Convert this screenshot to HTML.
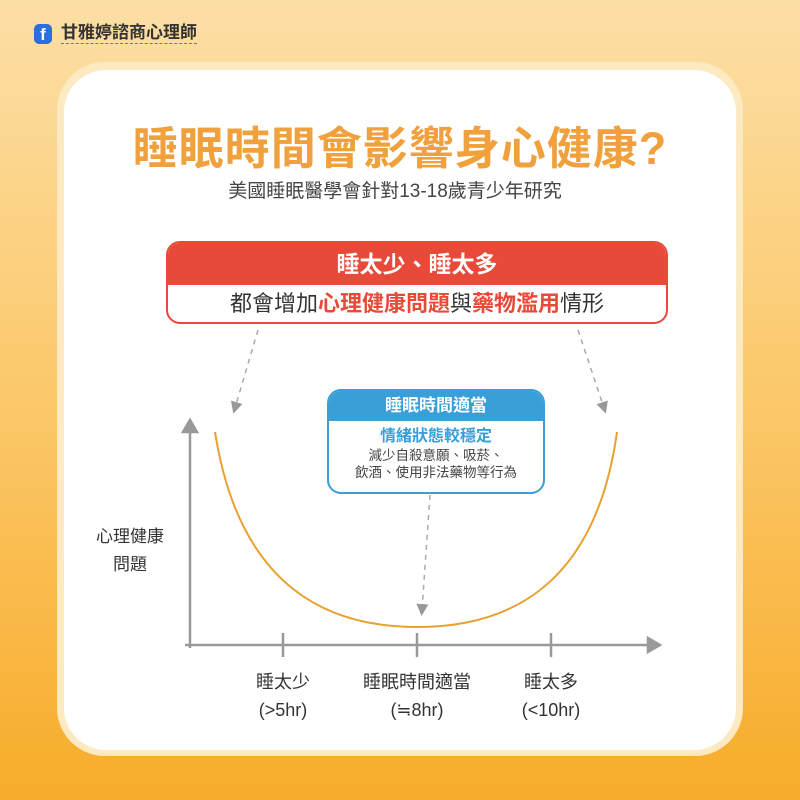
<!DOCTYPE html>
<html><head><meta charset="utf-8"><style>
body{margin:0;width:800px;height:800px;overflow:hidden;font-family:"Liberation Sans","Noto Sans CJK TC",sans-serif;background:linear-gradient(180deg,#fcdfa6 0%,#fbc86a 50%,#f8ac2a 100%);position:relative}
.a{position:absolute}
</style></head><body>
<div class="a" style="left:34px;top:24px;width:18px;height:20px;background:#2a6fe0;border-radius:5px;color:#fff;font-weight:bold;font-size:17px;text-align:center;line-height:22px">f</div>
<div class="a" style="left:61px;top:22px;font-size:17px;color:#333;font-weight:bold;border-bottom:1px dashed #777;line-height:21px">甘雅婷諮商心理師</div>
<div class="a" style="left:57px;top:62px;width:686px;height:694px;border-radius:48px;background:#fde9c2"></div>
<div class="a" style="left:64px;top:70px;width:672px;height:680px;border-radius:42px;background:#fff"></div>
<div class="a" style="left:0;width:800px;top:112px;text-align:center;font-size:45px;color:#f0a03c;font-weight:bold;letter-spacing:1px">睡眠時間會影響身心健康?</div>
<div class="a" style="left:0;width:790px;top:176px;text-align:center;font-size:19px;color:#444">美國睡眠醫學會針對13-18歲青少年研究</div>
<div class="a" style="left:166px;top:241px;width:498px;height:79px;border:2px solid #e84a3a;border-radius:14px;overflow:hidden;background:#fff">
<div style="height:42px;background:#e84a3a;color:#fff;font-size:23px;font-weight:bold;text-align:center;line-height:42px">睡太少、睡太多</div>
<div style="text-align:center;font-size:22px;color:#333;line-height:37px">都會增加<b style="color:#e84a3a">心理健康問題</b>與<b style="color:#e84a3a">藥物濫用</b>情形</div></div>
<div class="a" style="left:327px;top:389px;width:214px;height:101px;border:2px solid #3a9fd8;border-radius:14px;overflow:hidden;background:#fff">
<div style="height:30px;background:#3a9fd8;color:#fff;font-size:17px;font-weight:bold;text-align:center;line-height:30px">睡眠時間適當</div>
<div style="text-align:center;font-size:16px;color:#3a9fd8;font-weight:bold;margin-top:6px;line-height:20px">情緒狀態較穩定</div>
<div style="text-align:center;font-size:13.5px;color:#444;line-height:17px">減少自殺意願、吸菸、<br>飲酒、使用非法藥物等行為</div></div>
<svg class="a" style="left:0;top:0" width="800" height="800">
<defs><marker id="m" markerWidth="8" markerHeight="8" refX="4" refY="4" orient="auto"><path d="M0,0L8,4L0,8z" fill="#999"/></marker></defs>
<g stroke="#aaa" stroke-width="1.5" stroke-dasharray="5,5" fill="none">
<line x1="258" y1="330" x2="235" y2="408" marker-end="url(#m)"/>
<line x1="578" y1="330" x2="604" y2="408" marker-end="url(#m)"/>
<line x1="430" y1="495" x2="422" y2="610" marker-end="url(#m)"/>
</g>
<g stroke="#999" stroke-width="2.5" fill="none">
<line x1="190" y1="648" x2="190" y2="430"/><path d="M183,432L190,420L197,432z" fill="#999"/>
<line x1="185" y1="645" x2="650" y2="645"/><path d="M648,638L660,645L648,652z" fill="#999"/>
<line x1="283" y1="633" x2="283" y2="657"/><line x1="417" y1="633" x2="417" y2="657"/><line x1="551" y1="633" x2="551" y2="657"/>
</g>
<path d="M215,432 C240,590 330,627 417,627 C505,627 595,590 617,432" stroke="#e8a030" stroke-width="2" fill="none"/>
</svg>
<div class="a" style="left:85px;top:523px;width:90px;text-align:center;font-size:17px;color:#333;line-height:28px">心理健康<br>問題</div>
<div class="a" style="left:213px;top:668px;width:140px;text-align:center;font-size:18px;color:#333;line-height:28px">睡太少<br>(&gt;5hr)</div>
<div class="a" style="left:337px;top:668px;width:160px;text-align:center;font-size:18px;color:#333;line-height:28px">睡眠時間適當<br>(≒8hr)</div>
<div class="a" style="left:481px;top:668px;width:140px;text-align:center;font-size:18px;color:#333;line-height:28px">睡太多<br>(&lt;10hr)</div>
</body></html>
